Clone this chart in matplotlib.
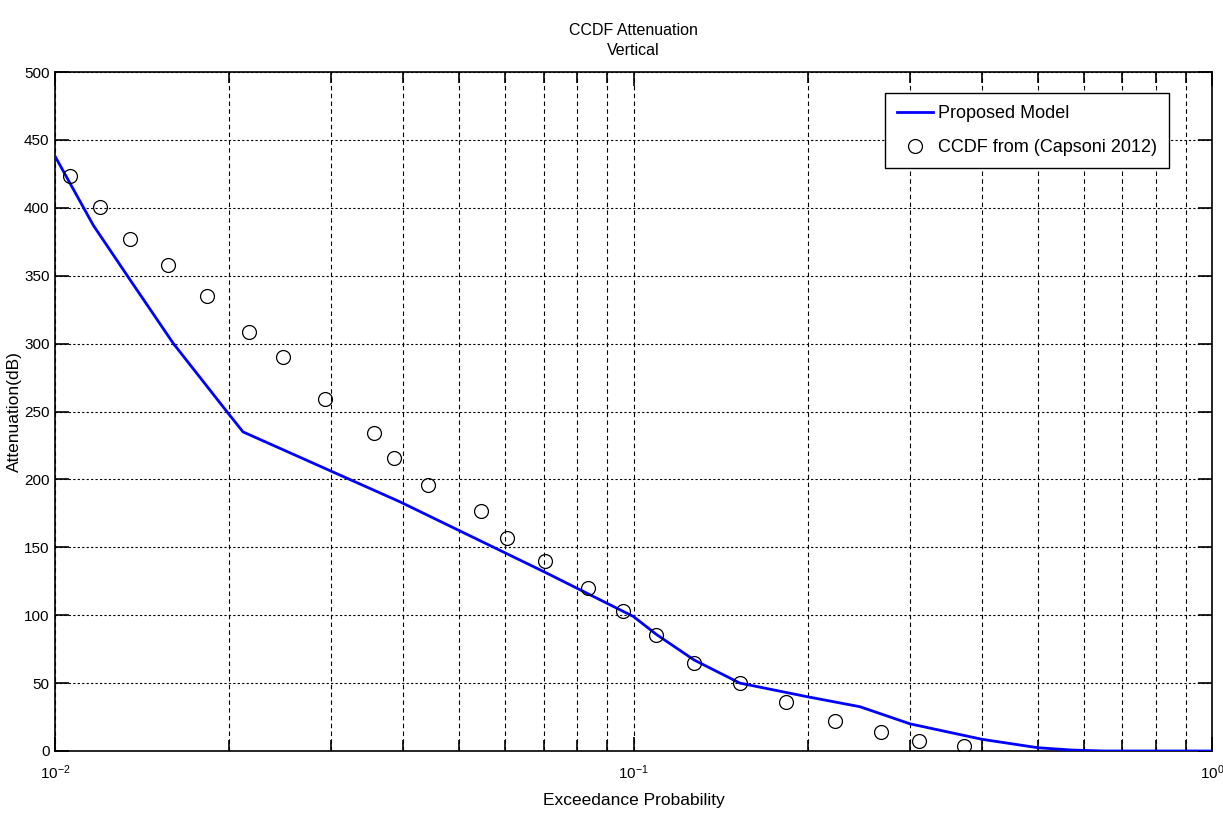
import matplotlib
matplotlib.use('Agg')
import matplotlib.pyplot as plt
from matplotlib.ticker import LogLocator, NullFormatter, FixedLocator

plt.rcParams['font.family'] = ['Liberation Sans', 'DejaVu Sans']

# proposed model curve
model_p = [0.0100, 0.01165, 0.01348, 0.01602, 0.01981, 0.02113, 0.03947, 0.07003,
           0.1000, 0.1094, 0.1273, 0.1527, 0.1995, 0.2463, 0.3006, 0.4004,
           0.5003, 0.5728, 0.6500, 1.0000]
model_att = [438, 387, 347, 300, 250, 235, 183.5, 132,
             99, 86, 67, 50, 40, 32.6, 20, 8.6,
             2.4, 0.7, 0, 0]

# measured CCDF points (Capsoni 2012)
meas_p = [0.01061, 0.01196, 0.01348, 0.01568, 0.01831, 0.02164, 0.02478, 0.02928,
          0.03558, 0.03855, 0.04414, 0.05451, 0.06044, 0.07031, 0.08341, 0.09590,
          0.1094, 0.1272, 0.1527, 0.1834, 0.2229, 0.2677, 0.3116, 0.3727]
meas_att = [423.4, 400.6, 377, 357.9, 335, 308.5, 290, 259,
            234, 215.8, 195.9, 176.7, 156.8, 139.9, 120, 103,
            85.4, 64.8, 50, 36, 22, 14, 7.4, 3.7]

y_ticks = [0, 50, 100, 150, 200, 250, 300, 350, 400, 450, 500]

fig = plt.figure(figsize=(12.23, 8.14), dpi=100)
ax = fig.add_axes([0.045, 0.0774, 0.946, 0.8341])

ax.plot(model_p, model_att, color='#0000ff', lw=2.0, label='Proposed Model', zorder=3)
ax.plot(meas_p, meas_att, ls='none', marker='o', ms=10, mfc='none', mec='black',
        mew=0.9, label='CCDF from (Capsoni 2012)', zorder=4)

ax.set_xscale('log')
ax.set_xlim(1e-2, 1e0)
ax.set_ylim(0, 500)
ax.yaxis.set_major_locator(FixedLocator(y_ticks))
ax.xaxis.set_major_locator(LogLocator(base=10, numticks=5))
ax.xaxis.set_minor_locator(LogLocator(base=10, subs=range(2, 10), numticks=20))
ax.xaxis.set_minor_formatter(NullFormatter())

# matlab-style grid
ax.grid(True, which='major', axis='y', color='black', lw=0.8, ls=(0, (2, 2)))
ax.grid(True, which='both', axis='x', color='black', lw=0.8, ls=(0, (4, 3)))

ax.tick_params(which='both', direction='in', top=True, right=True, labelsize=11, width=1.2)
ax.tick_params(which='major', length=10)
ax.tick_params(which='minor', length=8)
ax.tick_params(axis='x', which='major', pad=9)
ax.tick_params(axis='y', pad=4)
for s in ax.spines.values():
    s.set_linewidth(1.2)

ax.set_title('CCDF Attenuation\nVertical', fontsize=11.5, pad=12, linespacing=1.45)
ax.set_xlabel('Exceedance Probability', fontsize=12.5)
ax.xaxis.set_label_coords(0.5, -0.062)
ax.set_ylabel('Attenuation(dB)', fontsize=12.5)
ax.yaxis.set_label_coords(-0.0285, 0.5)

leg = ax.legend(loc='upper right', bbox_to_anchor=(0.963, 0.969), borderaxespad=0,
                fontsize=13, frameon=True, fancybox=False, edgecolor='black',
                framealpha=1, handlelength=2.0, borderpad=0.65, labelspacing=0.95,
                handletextpad=0.3)
leg.get_frame().set_linewidth(1.0)

plt.savefig('out.png', dpi=100, facecolor='white')
plt.close()
